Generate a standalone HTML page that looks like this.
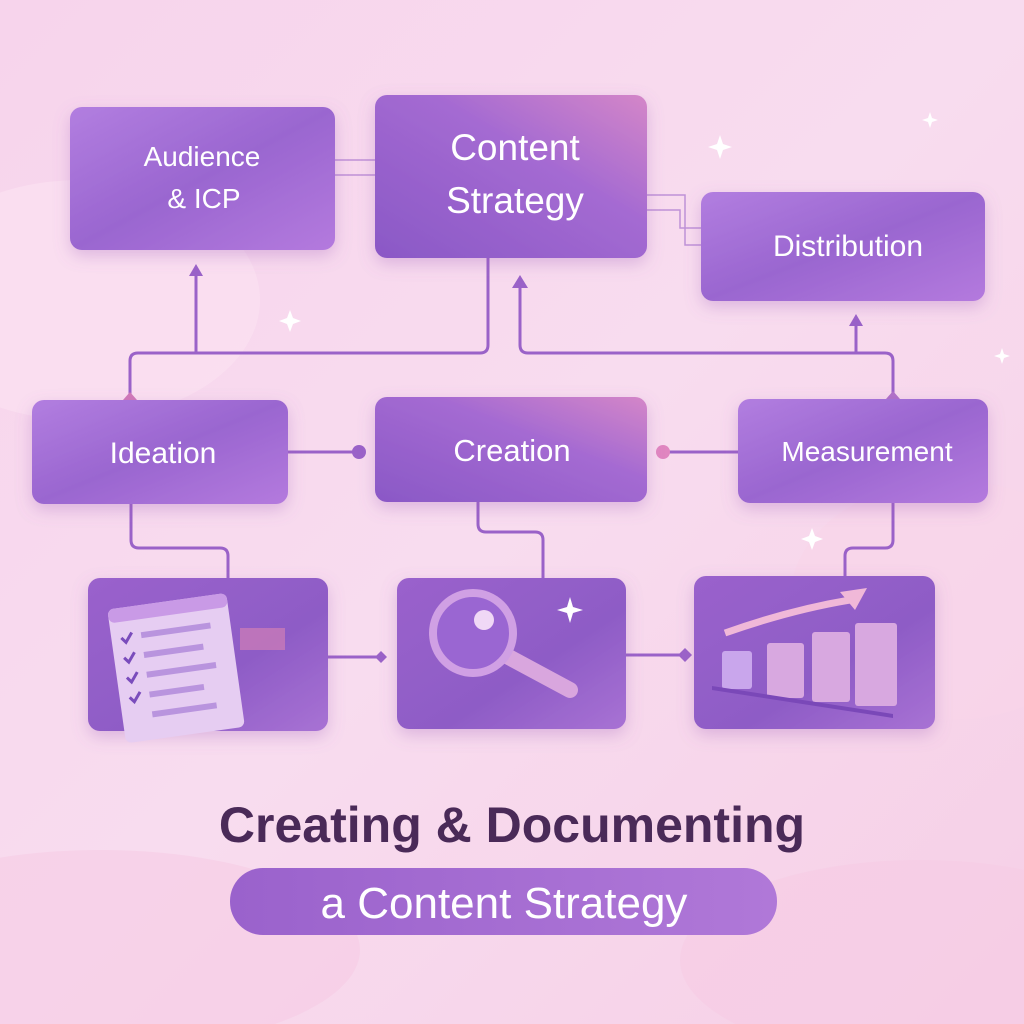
<!DOCTYPE html>
<html><head><meta charset="utf-8"><style>
html,body{margin:0;padding:0;width:1024px;height:1024px;overflow:hidden;font-family:"Liberation Sans",sans-serif;}
</style></head><body>
<svg width="1024" height="1024" viewBox="0 0 1024 1024" xmlns="http://www.w3.org/2000/svg">
<defs>
<linearGradient id="bg" x1="0" y1="0" x2="1" y2="1">
<stop offset="0" stop-color="#f7d4ec"/><stop offset="0.5" stop-color="#f8dcef"/><stop offset="1" stop-color="#f6cfe6"/>
</linearGradient>
<linearGradient id="box" x1="0" y1="0" x2="1" y2="1">
<stop offset="0" stop-color="#b27ee0"/><stop offset="0.5" stop-color="#9a66d0"/><stop offset="1" stop-color="#b47ade"/>
</linearGradient>
<linearGradient id="box2" x1="0" y1="1" x2="1" y2="0">
<stop offset="0" stop-color="#8a58c6"/><stop offset="0.6" stop-color="#a46ad2"/><stop offset="1" stop-color="#d486c8"/>
</linearGradient>
<linearGradient id="img" x1="0" y1="0" x2="1" y2="1">
<stop offset="0" stop-color="#9a62cc"/><stop offset="0.6" stop-color="#8e5cc6"/><stop offset="1" stop-color="#a872d4"/>
</linearGradient>
<linearGradient id="pill" x1="0" y1="0" x2="1" y2="0">
<stop offset="0" stop-color="#9a62cc"/><stop offset="1" stop-color="#b078d8"/>
</linearGradient>
<filter id="sh" x="-20%" y="-20%" width="140%" height="150%"><feDropShadow dx="0" dy="6" stdDeviation="8" flood-color="#9a5cb8" flood-opacity="0.3"/></filter>
</defs>
<rect width="1024" height="1024" fill="url(#bg)"/>
<ellipse cx="80" cy="300" rx="180" ry="120" fill="#fbe3f2" opacity="0.6"/>
<ellipse cx="950" cy="600" rx="160" ry="120" fill="#f9d6ea" opacity="0.6"/>
<ellipse cx="100" cy="950" rx="260" ry="100" fill="#f6cce4" opacity="0.6"/>
<ellipse cx="920" cy="960" rx="240" ry="100" fill="#f6cce4" opacity="0.6"/>

<g fill="none" stroke="#9a62c8" stroke-width="3">
<path d="M488 258 V345 Q488 353 480 353 H138 Q130 353 130 361 V400"/>
<path d="M196 353 V272"/>
<path d="M520 284 V345 Q520 353 528 353 H885 Q893 353 893 361 V399"/>
<path d="M856 353 V322"/>
<path d="M288 452 H358"/>
<path d="M663 452 H738"/>
<path d="M131 504 V540 Q131 548 139 548 H220 Q228 548 228 556 V578"/>
<path d="M478 502 V524 Q478 532 486 532 H535 Q543 532 543 540 V578"/>
<path d="M893 503 V540 Q893 548 885 548 H853 Q845 548 845 556 V576"/>
<path d="M328 657 H380"/>
<path d="M626 655 H685"/>
<path d="M335 160 H375 M335 175 H375" stroke-width="1.5" opacity="0.6"/>
<path d="M647 195 H685 V245 H701 M647 210 H680 V228 H701" stroke-width="1.5" opacity="0.6"/>
</g>
<g fill="#9a62c8">
<path d="M196 264 l-7 12 h14z"/>
<path d="M520 275 l-8 13 h16z"/>
<path d="M856 314 l-7 12 h14z"/>
<circle cx="359" cy="452" r="7"/>
<circle cx="663" cy="452" r="7" fill="#e086c0"/>
<path d="M130 392 l7 8 l-7 8 l-7 -8z" fill="#d078b8"/>
<path d="M893 391 l7 8 l-7 8 l-7 -8z" fill="#b070c8"/>
<path d="M381 651 l6 6 l-6 6 l-6 -6z"/>
<path d="M685 648 l7 7 l-7 7 l-7 -7z"/>
</g>

<g filter="url(#sh)">
<rect x="70" y="107" width="265" height="143" rx="12" fill="url(#box)"/>
<rect x="375" y="95" width="272" height="163" rx="12" fill="url(#box2)"/>
<rect x="701" y="192" width="284" height="109" rx="12" fill="url(#box)"/>
<rect x="32" y="400" width="256" height="104" rx="12" fill="url(#box)"/>
<rect x="375" y="397" width="272" height="105" rx="12" fill="url(#box2)"/>
<rect x="738" y="399" width="250" height="104" rx="12" fill="url(#box)"/>
<rect x="88" y="578" width="240" height="153" rx="12" fill="url(#img)"/>
<rect x="397" y="578" width="229" height="151" rx="12" fill="url(#img)"/>
<rect x="694" y="576" width="241" height="153" rx="12" fill="url(#img)"/>
</g>

<g font-family="Liberation Sans, sans-serif" fill="#fff" text-anchor="middle">
<text x="202" y="166" font-size="28">Audience</text>
<text x="204" y="208" font-size="28">&amp; ICP</text>
<text x="515" y="160" font-size="37">Content</text>
<text x="515" y="213" font-size="37">Strategy</text>
<text x="848" y="256" font-size="30">Distribution</text>
<text x="163" y="463" font-size="30">Ideation</text>
<text x="512" y="461" font-size="31">Creation</text>
<text x="867" y="461" font-size="28">Measurement</text>
</g>

<!-- checklist -->
<g transform="rotate(-8 180 660)">
<rect x="115" y="600" width="120" height="135" rx="6" fill="#e6cdf2"/>
<rect x="115" y="600" width="120" height="14" rx="6" fill="#c99ae6"/>
<g stroke="#7a4cbc" stroke-width="3" fill="none">
<path d="M125 630 l4 5 l7 -9 M125 650 l4 5 l7 -9 M125 670 l4 5 l7 -9 M125 690 l4 5 l7 -9"/>
</g>
<g fill="#b994de"><rect x="145" y="627" width="70" height="6"/><rect x="145" y="647" width="60" height="6"/><rect x="145" y="667" width="70" height="6"/><rect x="145" y="687" width="55" height="6"/><rect x="145" y="707" width="65" height="6"/></g>
</g>
<rect x="240" y="628" width="45" height="22" fill="#c87ab8" opacity="0.8"/>
<!-- magnifier -->
<line x1="505" y1="655" x2="570" y2="690" stroke="#d9a6de" stroke-width="16" stroke-linecap="round"/>
<circle cx="473" cy="633" r="40" fill="#9a66d2" stroke="#d0a0e4" stroke-width="8"/>
<circle cx="484" cy="620" r="10" fill="#f0d8f6"/>
<path d="M570 597 l3 10 l10 3 l-10 3 l-3 10 l-3 -10 l-10 -3 l10 -3z" fill="#fff"/>
<!-- chart -->
<path d="M725 633 Q790 610 850 600" stroke="#f0b8d8" stroke-width="7" fill="none"/>
<path d="M840 592 l27 -4 l-12 22z" fill="#f0b8d8"/>
<g fill="#d8a8e0"><rect x="722" y="651" width="30" height="38" rx="3" fill="#c9a6ec"/><rect x="767" y="643" width="37" height="55" rx="3"/><rect x="812" y="632" width="38" height="70" rx="3"/><rect x="855" y="623" width="42" height="83" rx="3"/></g>
<path d="M712 686 L893 714 L893 718 L712 690z" fill="#7a48b8"/>

<!-- sparkles -->
<g fill="#fff">
<path d="M720 135 l3 9 l9 3 l-9 3 l-3 9 l-3 -9 l-9 -3 l9 -3z"/>
<path d="M290 310 l3 8 l8 3 l-8 3 l-3 8 l-3 -8 l-8 -3 l8 -3z"/>
<path d="M812 528 l3 8 l8 3 l-8 3 l-3 8 l-3 -8 l-8 -3 l8 -3z"/>
<path d="M930 112 l2 6 l6 2 l-6 2 l-2 6 l-2 -6 l-6 -2 l6 -2z"/>
<path d="M1002 348 l2 6 l6 2 l-6 2 l-2 6 l-2 -6 l-6 -2 l6 -2z"/>
</g>

<text x="512" y="842" text-anchor="middle" font-family="Liberation Sans, sans-serif" font-size="50" font-weight="bold" fill="#4a2a58">Creating &amp; Documenting</text>
<rect x="230" y="868" width="547" height="67" rx="33" fill="url(#pill)"/>
<text x="504" y="918" text-anchor="middle" font-family="Liberation Sans, sans-serif" font-size="44" fill="#fff">a Content Strategy</text>
</svg>
</body></html>
